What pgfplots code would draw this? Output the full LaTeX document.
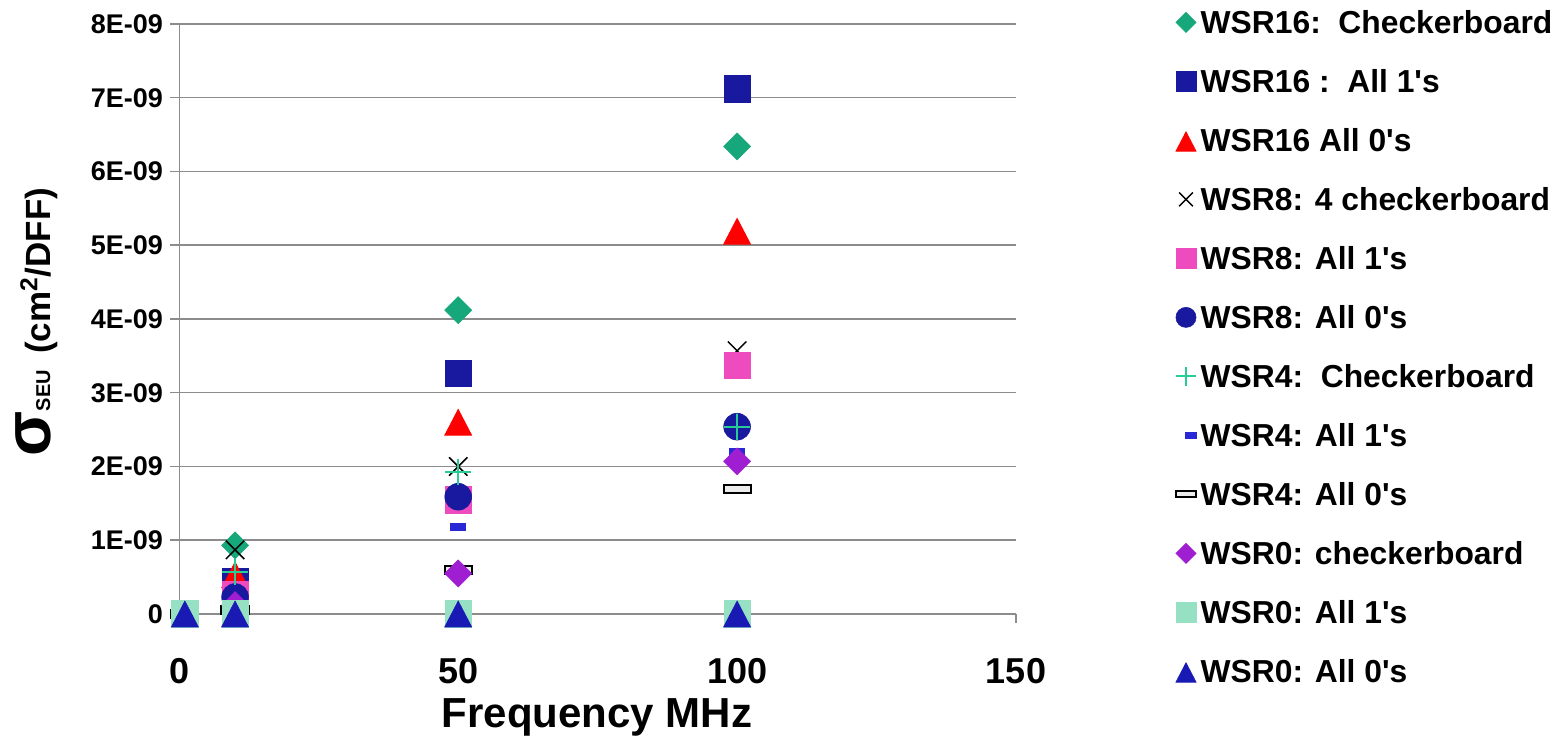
\documentclass[border=0pt]{standalone}
\usepackage{fontspec}
\setmainfont{Liberation Sans}
\usepackage{pgfplots}
\pgfplotsset{compat=1.18}
\definecolor{gridgray}{RGB}{140,140,140}
\definecolor{cgreen}{RGB}{22,168,122}
\definecolor{cnavy}{RGB}{25,25,160}
\definecolor{cred}{RGB}{255,0,0}
\definecolor{cpink}{RGB}{238,76,190}
\definecolor{cplus}{RGB}{40,205,150}
\definecolor{cdash}{RGB}{40,40,215}
\definecolor{cpurple}{RGB}{160,30,210}
\definecolor{clight}{RGB}{150,224,196}
\definecolor{ctri}{RGB}{25,25,180}
\newcommand{\q}{\textquotesingle}
\begin{document}
\begin{tikzpicture}
\useasboundingbox (-89.65pt,-61.5pt) rectangle (691.35pt,307pt);
\begin{axis}[
  scale only axis, width=418.35pt, height=295pt,
  xmin=0, xmax=150, ymin=0, ymax=8e-9,
  axis lines=left,
  axis line style={-, draw=gridgray, line width=0.75pt},
  xtick={0,50,100,150}, xticklabels={0,50,100,150},
  ytick={0,1e-9,2e-9,3e-9,4e-9,5e-9,6e-9,7e-9,8e-9},
  yticklabels={0,1E-09,2E-09,3E-09,4E-09,5E-09,6E-09,7E-09,8E-09},
  scaled y ticks=false, scaled x ticks=false,
  tick align=outside, major tick length=4.5pt,
  tick style={draw=gridgray, line width=0.75pt},
  ymajorgrids, grid style={draw=gridgray, line width=0.75pt},
  clip=false,
  /pgf/number format/assume math mode=true,
  yticklabel style={font=\fontsize{13.5}{14}\selectfont\bfseries, anchor=east, inner sep=0pt, xshift=-3.5pt},
  xticklabel style={font=\fontsize{18}{20}\selectfont\bfseries, anchor=base, inner sep=0pt, yshift=-30.5pt},
  xlabel={Frequency MHz},
  xlabel style={font=\fontsize{21}{24}\selectfont\bfseries, at={(axis description cs:0.4992,-0.1932)}, anchor=base},
  ylabel={{\fontsize{33}{33}\selectfont σ}{\fontsize{10}{10}\selectfont SEU}\hspace{8pt}(cm\textsuperscript{2}/DFF)},
  ylabel style={font=\fontsize{17.5}{20}\selectfont\bfseries, at={(axis description cs:-0.1545,0.4950)}, anchor=base, rotate=0},
  legend style={at={(axis description cs:1.1905,1.0214)}, anchor=north west, draw=none, fill=none,
    inner sep=0pt, row sep=15.5pt, column sep=2.25pt,
    font=\fontsize{15.9}{16}\selectfont\bfseries,
    nodes={inner sep=0pt, text height=11pt, text depth=3pt}},
  legend cell align=left,
  legend image code/.code={\draw[#1,/tikz/every mark/.append style={scale=0.75}] plot coordinates {(0pt,1.7pt)};},
]
\addplot[only marks, mark=square*, mark size=4.77pt, mark options={rotate=45, draw=cgreen, fill=cgreen, line width=0.3pt}]
  coordinates {(1,0) (10,0.93e-9) (50,4.12e-9) (100,6.34e-9)};
\addlegendentry{WSR16:\ \ Checkerboard}
\addplot[only marks, mark=square*, mark size=6.6pt, mark options={draw=cnavy, fill=cnavy, line width=0.3pt}]
  coordinates {(1,0) (10,0.44e-9) (50,3.26e-9) (100,7.12e-9)};
\addlegendentry{WSR16 :\ \ All 1\q s}
\addplot[only marks, mark=triangle*, mark size=7.8pt, mark options={yscale=1.11, yshift=-1.95pt, draw=cred, fill=cred, line width=0.3pt}]
  coordinates {(1,0) (10,0.53e-9) (50,2.60e-9) (100,5.19e-9)};
\addlegendentry{WSR16 All 0\q s}
\addplot[only marks, mark=x, mark size=6.5pt, mark options={draw=black, line width=0.75pt}]
  coordinates {(1,0) (10,0.87e-9) (50,2.0e-9) (100,3.57e-9)};
\addlegendentry{WSR8: 4 checkerboard}
\addplot[only marks, mark=square*, mark size=6.6pt, mark options={draw=cpink, fill=cpink, line width=0.3pt}]
  coordinates {(1,0) (10,0.26e-9) (50,1.55e-9) (100,3.37e-9)};
\addlegendentry{WSR8: All 1\q s}
\addplot[only marks, mark=*, mark size=6.7pt, mark options={draw=cnavy, fill=cnavy, line width=0.3pt}]
  coordinates {(1,0) (10,0.23e-9) (50,1.59e-9) (100,2.54e-9)};
\addlegendentry{WSR8: All 0\q s}
\addplot[only marks, mark=+, mark size=6.5pt, mark options={draw=cplus, line width=1pt}]
  coordinates {(1,0) (10,0.57e-9) (50,1.92e-9) (100,2.54e-9)};
\addlegendentry{WSR4:\ \ Checkerboard}
\addplot[only marks, mark=square*, mark size=3.75pt, mark options={yscale=0.47, draw=cdash, fill=cdash, line width=0.3pt}, legend image post style={xshift=2.25pt}]
  coordinates {(1,0) (10,0.05e-9) (50,1.18e-9) (100,2.2e-9)};
\addlegendentry{WSR4: All 1\q s}
\addplot[only marks, mark=square*, mark size=6.8pt, mark options={yscale=0.29, draw=black, fill=gray!15, line width=1pt}]
  coordinates {(1,0) (10,0.05e-9) (50,0.6e-9) (100,1.69e-9)};
\addlegendentry{WSR4: All 0\q s}
\addplot[only marks, mark=square*, mark size=4.77pt, mark options={rotate=45, draw=cpurple, fill=cpurple, line width=0.3pt}]
  coordinates {(1,0) (10,0.12e-9) (50,0.55e-9) (100,2.07e-9)};
\addlegendentry{WSR0: checkerboard}
\addplot[only marks, mark=square*, mark size=6.6pt, mark options={draw=clight, fill=clight, line width=0.3pt}]
  coordinates {(1,0) (10,0) (50,0) (100,0)};
\addlegendentry{WSR0: All 1\q s}
\addplot[only marks, mark=triangle*, mark size=7.8pt, mark options={yscale=1.11, yshift=-1.95pt, draw=ctri, fill=ctri, line width=0.3pt}]
  coordinates {(1,0) (10,0) (50,0) (100,0)};
\addlegendentry{WSR0: All 0\q s}
\end{axis}
\end{tikzpicture}
\end{document}
